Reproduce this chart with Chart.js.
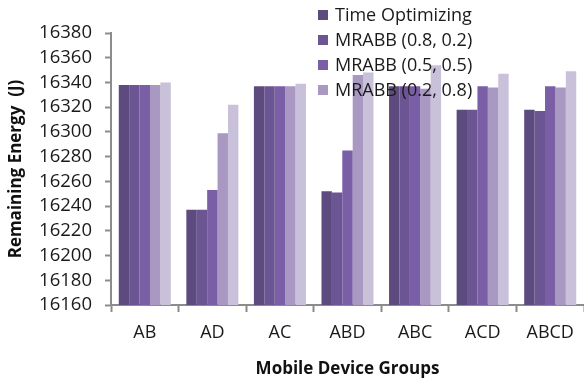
<!DOCTYPE html>
<html>
<head>
<meta charset="utf-8">
<script src="https://cdn.jsdelivr.net/npm/chart.js@4/dist/chart.umd.min.js"></script>
<style>
  html, body { margin: 0; padding: 0; background: #ffffff; }
  #wrap { width: 584px; height: 379px; position: relative; }
</style>
</head>
<body>
<div id="wrap"><canvas id="c" width="584" height="379"></canvas></div>
<script>
// Mobile device groups on the x axis
const groups = ['AB', 'AD', 'AC', 'ABD', 'ABC', 'ACD', 'ABCD'];

// Remaining energy (J) per strategy
const timeOptimizing = [16338, 16237, 16337, 16252, 16337, 16318, 16318];
const mrabb0802      = [16338, 16237, 16337, 16251, 16337, 16318, 16317];
const mrabb0505      = [16338, 16253, 16337, 16285, 16337, 16337, 16337];
const mrabb0208      = [16338, 16299, 16337, 16346, 16335, 16336, 16336];
const mrabbExtra     = [16340, 16322, 16339, 16348, 16354, 16347, 16349];

const seriesLabels = ['Time Optimizing', 'MRABB (0.8, 0.2)', 'MRABB (0.5, 0.5)', 'MRABB (0.2, 0.8)', 'MRABB'];
const seriesColors = ['#5d4a7f', '#6b5592', '#7b5fa6', '#a898c2', '#c9c0da'];
const seriesValues = [timeOptimizing, mrabb0802, mrabb0505, mrabb0208, mrabbExtra];

// Number of entries shown in the overlaid legend
const legendCount = 4;

const yMin = 16160, yMax = 16380, yStep = 20;

const FONT = '"Open Sans", "Liberation Sans", sans-serif';
const AXIS = '#8c8c8c';

// Legend drawn inside the plot, over the bars, at the top right
const overlayLegend = {
  id: 'overlayLegend',
  afterDraw(chart) {
    const ctx = chart.ctx;
    ctx.save();
    ctx.font = '18px ' + FONT;
    ctx.textBaseline = 'middle';
    ctx.textAlign = 'left';
    const x0 = 318, y0 = 15, rowH = 25, box = 10;
    chart.data.datasets.slice(0, legendCount).forEach((ds, i) => {
      const cy = y0 + i * rowH;
      ctx.fillStyle = ds.backgroundColor;
      ctx.fillRect(x0, cy - box / 2, box, box);
      ctx.fillStyle = '#1a1a1a';
      ctx.fillText(ds.label, x0 + 17, cy + 1);
    });
    ctx.restore();
  }
};

new Chart(document.getElementById('c'), {
  type: 'bar',
  data: {
    labels: groups,
    datasets: seriesValues.map((vals, i) => ({
      label: seriesLabels[i],
      data: vals,
      backgroundColor: seriesColors[i],
      borderWidth: 0,
      categoryPercentage: 0.77,
      barPercentage: 1.0
    }))
  },
  options: {
    responsive: false,
    animation: false,
    layout: { padding: { top: 33, right: 0, left: 0, bottom: 0 } },
    plugins: {
      legend: { display: false },
      tooltip: { enabled: false }
    },
    scales: {
      x: {
        offset: true,
        grid: {
          display: true,
          offset: true,
          drawOnChartArea: false,
          drawTicks: true,
          tickLength: 7,
          tickWidth: 2,
          tickColor: AXIS
        },
        border: { display: true, color: AXIS, width: 2 },
        ticks: {
          color: '#1a1a1a',
          font: { family: FONT, size: 18 },
          padding: 10,
          maxRotation: 0
        },
        title: {
          display: true,
          text: 'Mobile Device Groups',
          color: '#111111',
          font: { family: FONT, size: 17, weight: 'bold' },
          padding: { top: 4, bottom: 0 }
        },
        afterFit(scale) { scale.height = 74; }
      },
      y: {
        min: yMin,
        max: yMax,
        grid: {
          display: true,
          drawOnChartArea: false,
          drawTicks: true,
          tickLength: 6,
          tickWidth: 2,
          tickColor: AXIS
        },
        border: { display: true, color: AXIS, width: 2 },
        ticks: {
          stepSize: yStep,
          autoSkip: false,
          color: '#1a1a1a',
          font: { family: FONT, size: 18.5 },
          padding: 13,
          callback: (v) => String(v)
        },
        title: {
          display: true,
          text: 'Remaining Energy  (J)',
          color: '#111111',
          font: { family: FONT, size: 17, weight: 'bold' },
          padding: { top: 6, bottom: 2 }
        },
        afterFit(scale) { scale.width = 111; }
      }
    }
  },
  plugins: [overlayLegend]
});
</script>
</body>
</html>
